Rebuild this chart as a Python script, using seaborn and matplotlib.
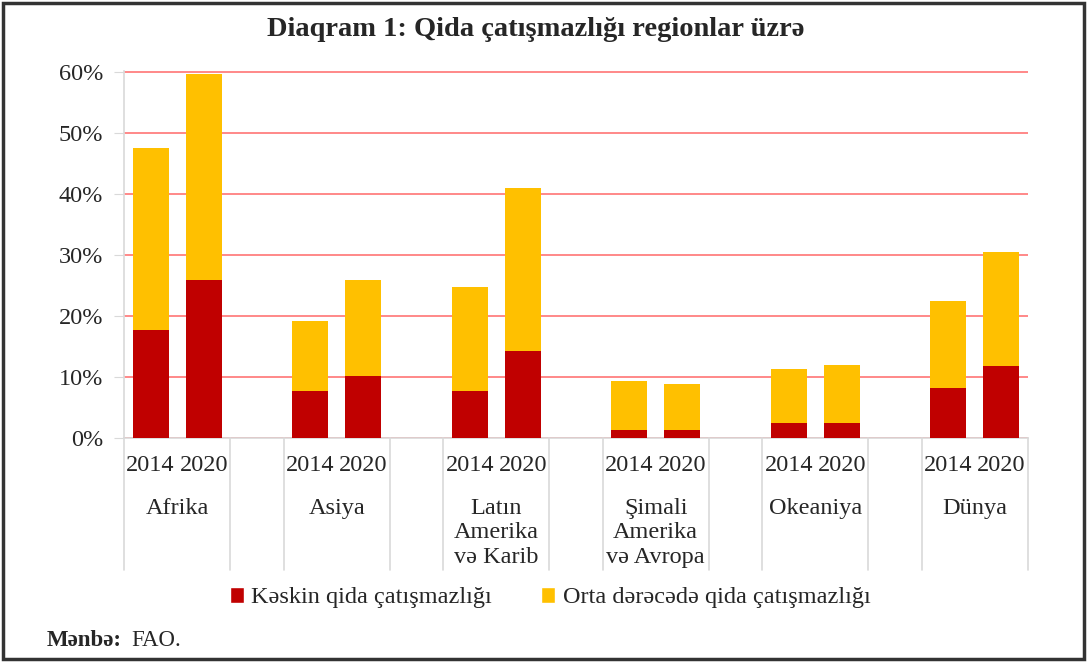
import pandas as pd
import numpy as np
import matplotlib.pyplot as plt
import seaborn as sns
from matplotlib.patches import Patch, Rectangle
from matplotlib.ticker import PercentFormatter
import matplotlib.transforms as mtransforms

# data (share of population)
regions = ['Afrika', 'Asiya', 'Latın\nAmerika\nvə Karib', 'Şimali\nAmerika\nvə Avropa', 'Okeaniya', 'Dünya']
years = ['2014', '2020']
severe = [0.176, 0.258, 0.077, 0.101, 0.077, 0.142, 0.013, 0.013, 0.025, 0.025, 0.082, 0.118]
moderate = [0.298, 0.338, 0.114, 0.157, 0.171, 0.268, 0.080, 0.075, 0.088, 0.094, 0.143, 0.186]

sns.set_style('white')
plt.rcParams['font.family'] = ['Liberation Serif', 'DejaVu Serif']

rows = []
for g, reg in enumerate(regions):
    for k, yr in enumerate(years):
        i = g * 2 + k
        rows.append({'pos': g * 3 + k, 'region': reg, 'year': yr,
                     'severe': severe[i], 'moderate': moderate[i]})
df = pd.DataFrame(rows)
df['total'] = df['severe'] + df['moderate']

fig = plt.figure(figsize=(10.87, 6.62), dpi=100)
ax = fig.add_axes([0.1141, 0.3384, 0.8316, 0.5543])

sns.barplot(data=df, x='pos', y='total', native_scale=True, color='#FFC000',
            saturation=1, width=0.68, linewidth=0, ax=ax, zorder=2)
sns.barplot(data=df, x='pos', y='severe', native_scale=True, color='#C00000',
            saturation=1, width=0.68, linewidth=0, ax=ax, zorder=3)

ax.set_xlim(-0.5, 16.5)
ax.set_ylim(0, 0.6008)
ax.set_yticks(np.arange(0, 0.61, 0.1))
ax.yaxis.set_major_formatter(PercentFormatter(1.0, decimals=0))
ax.tick_params(axis='y', labelsize=17.5, length=7, color='#D9D9D9', pad=8, left=True)
ax.set_xticks([])
ax.set_xlabel('')
ax.set_ylabel('')
ax.grid(axis='y', color='#FF7F7F', linewidth=1.3, zorder=1)
ax.set_axisbelow(True)
for s in ['top', 'right']:
    ax.spines[s].set_visible(False)
for s in ['left', 'bottom']:
    ax.spines[s].set_color('#D9D9D9')
    ax.spines[s].set_linewidth(1.2)

# multi-level category axis
trans = mtransforms.blended_transform_factory(ax.transData, ax.transAxes)
sep_bottom = -(570 - 438) / 367.0
for g in range(len(regions)):
    left = g * 3 - 0.5
    right = g * 3 + 1.5
    for xs in (left, right):
        ax.plot([xs, xs], [0, sep_bottom], transform=trans, color='#D9D9D9',
                lw=1.2, clip_on=False)
    for k, yr in enumerate(years):
        ax.text(g * 3 + k, -28 / 367.0, yr, transform=trans, ha='center',
                va='center', fontsize=17.5)
    ax.text(g * 3 + 0.5, -60 / 367.0, regions[g], transform=trans, ha='center',
            va='top', fontsize=17.5, linespacing=1.22)

fig.text(0.493, 0.955, 'Diaqram 1: Qida çatışmazlığı regionlar üzrə', ha='center',
         va='center', fontsize=20.5, fontweight='bold')

handles = [Patch(facecolor='#C00000', label='Kəskin qida çatışmazlığı'),
           Patch(facecolor='#FFC000', label='Orta dərəcədə qida çatışmazlığı')]
fig.legend(handles=handles, loc='center', bbox_to_anchor=(0.506, 0.097), ncol=2,
           frameon=False, fontsize=17.5, handlelength=0.6, handleheight=0.6,
           handletextpad=0.3, columnspacing=2.0)

fig.text(0.043, 0.033, 'Mənbə:', fontsize=16.5, fontweight='bold', va='center')
fig.text(0.121, 0.033, 'FAO.', fontsize=16.5, va='center')

fig.patches.append(Rectangle((0.003, 0.004), 0.994, 0.992, transform=fig.transFigure,
                             fill=False, edgecolor='#333333', linewidth=2.5))

fig.savefig('out.png', dpi=100)
